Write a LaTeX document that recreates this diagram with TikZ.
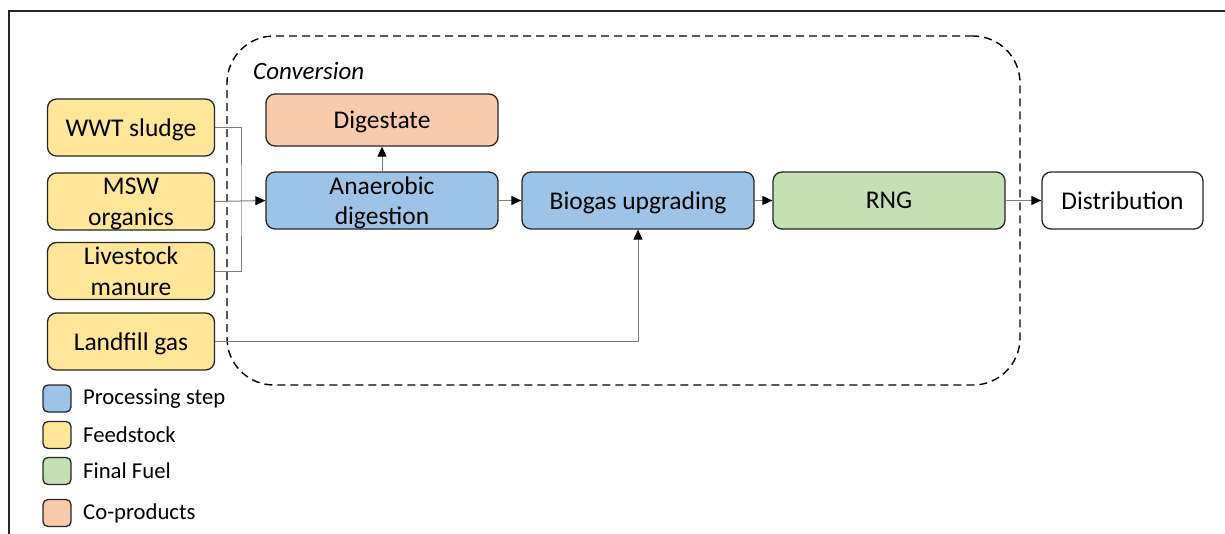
\documentclass[tikz,border=0pt]{standalone}
\usepackage{fontspec}
\setmainfont{Carlito}
\usetikzlibrary{arrows.meta}
\definecolor{procblue}{HTML}{9DC3E6}
\definecolor{feedyellow}{HTML}{FFE699}
\definecolor{fuelgreen}{HTML}{C5E0B4}
\definecolor{coorange}{HTML}{F8CBAD}
\definecolor{edge}{HTML}{262626}
\definecolor{wire}{HTML}{7F7F7F}
\begin{document}
\begin{tikzpicture}[x=1pt,y=-1pt,
  box/.style={draw=edge, line width=1.3pt, rounded corners=9pt,
    font=\fontsize{25.5}{30.5}\selectfont, align=center, inner sep=0pt,
    text depth=0pt},
  feedbox/.style={box, fill=feedyellow, minimum width=167pt, minimum height=57pt},
  stagebox/.style={box, minimum width=232pt, minimum height=57pt},
  link/.style={draw=wire, line width=1pt},
  arr/.style={link, -{Triangle[length=10pt,width=9pt,color=black]}},
  keybox/.style={draw=edge, line width=1.3pt, rounded corners=5pt,
    minimum width=28pt, minimum height=27pt, inner sep=0pt},
  keytext/.style={anchor=west, inner sep=0pt, font=\fontsize{22.7}{26}\selectfont}]
\useasboundingbox (0,0) rectangle (1225,533);
\clip (0,0) rectangle (1225,533);

% outer frame (runs off the page to the right and bottom)
\draw[edge, line width=1.3pt] (9,560) -- (9,11) -- (1240,11);

% conversion boundary
\node[draw=black, dashed, dash pattern=on 8pt off 5pt, line width=1.4pt,
  rounded corners=47pt, minimum width=793pt, minimum height=349pt]
  (conv) at (623.5,210.5) {};
\node[anchor=west, inner sep=0pt, font=\fontsize{25}{30}\selectfont\itshape]
  (convlabel) at (253,71) {Conversion};

% feedstocks
\node[feedbox] (wwt) at (131,127.5) {WWT sludge};
\node[feedbox] (msw) at (131,201.5) {MSW\\organics};
\node[feedbox] (lm)  at (131,271) {Livestock\\manure};
\node[feedbox] (lf)  at (131,341.5) {Landfill gas};

% process chain
\node[stagebox, fill=coorange, minimum height=52pt] (dg) at (382,120) {Digestate};
\node[stagebox, fill=procblue] (ad) at (382,200.5) {Anaerobic\\digestion};
\node[stagebox, fill=procblue] (bu) at (638,200.5) {Biogas upgrading};
\node[stagebox, fill=fuelgreen] (rng) at (889,200.5) {RNG};
\node[box, fill=white, minimum width=161pt, minimum height=57pt] (dist) at (1122.5,200.5) {Distribution};

% connectors
\coordinate (bus) at (241,201.5);
\draw[link] (wwt.east) -| (bus) |- (lm.east);
\draw[arr] (msw.east) -- (ad.west);
\draw[arr] (ad.north) -- (dg.south);
\draw[arr] (ad.east) -- (bu.west);
\draw[arr] (bu.east) -- (rng.west);
\draw[arr] (rng.east) -- (dist.west);
\draw[arr] (lf.east) -| (bu.south);

% legend
\node[keybox, fill=procblue]   (k1) at (57,398.5) {};
\node[keybox, fill=feedyellow] (k2) at (57,435) {};
\node[keybox, fill=fuelgreen]  (k3) at (57,471) {};
\node[keybox, fill=coorange]   (k4) at (57,513) {};
\node[keytext] (t1) at (83,398.5) {Processing step};
\node[keytext] (t2) at (83,435) {Feedstock};
\node[keytext] (t3) at (83,471) {Final Fuel};
\node[keytext] (t4) at (83,513) {Co-products};
\end{tikzpicture}
\end{document}
